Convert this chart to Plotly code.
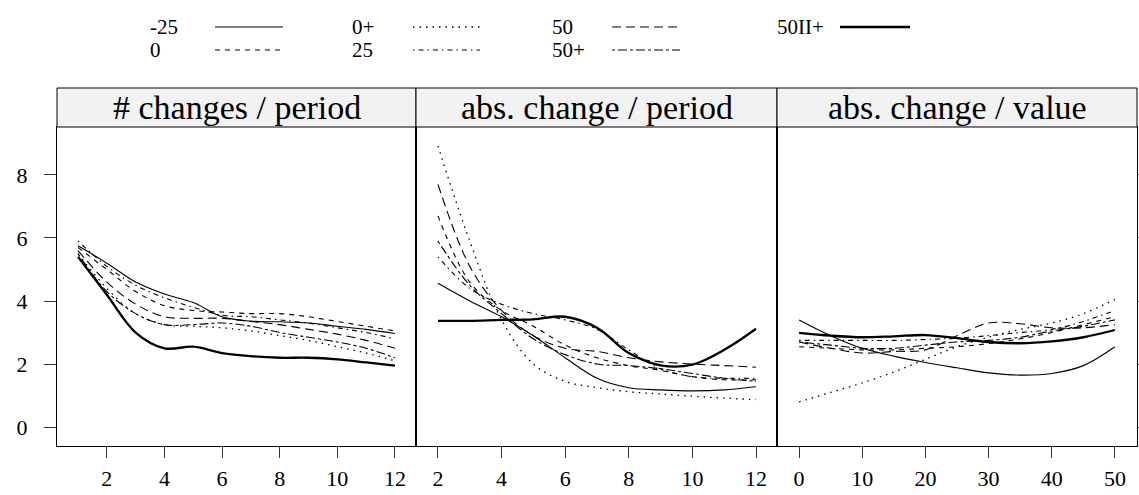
import plotly.graph_objects as go

W, H = 1139, 495

names = ["-25", "0", "0+", "25", "50", "50+", "50II+"]

# panel 1: # changes / period
x_cp = list(range(1, 13))
cp_m25 = [5.75, 5.2, 4.6, 4.22, 3.95, 3.5, 3.36, 3.34, 3.3, 3.2, 3.1, 2.97]
cp_0 = [5.7, 5.0, 4.3, 3.85, 3.7, 3.65, 3.6, 3.6, 3.5, 3.35, 3.2, 3.05]
cp_0p = [5.5, 4.4, 3.6, 3.25, 3.2, 3.15, 3.05, 2.9, 2.75, 2.55, 2.35, 2.1]
cp_25 = [5.9, 5.1, 4.5, 4.1, 3.8, 3.55, 3.5, 3.4, 3.3, 3.15, 3.0, 2.8]
cp_50 = [5.6, 4.6, 3.9, 3.5, 3.45, 3.45, 3.35, 3.25, 3.1, 2.95, 2.75, 2.5]
cp_50p = [5.5, 4.3, 3.6, 3.25, 3.25, 3.3, 3.2, 3.0, 2.85, 2.7, 2.5, 2.2]
cp_50IIp = [5.4, 4.2, 3.0, 2.5, 2.55, 2.35, 2.25, 2.2, 2.2, 2.15, 2.05, 1.95]

# panel 2: abs. change / period
x_ap = list(range(2, 13))
ap_m25 = [4.56, 4.0, 3.5, 2.9, 2.2, 1.55, 1.25, 1.18, 1.15, 1.18, 1.28]
ap_0 = [6.7, 4.6, 3.7, 3.2, 2.6, 2.2, 1.95, 1.8, 1.6, 1.5, 1.5]
ap_0p = [8.92, 5.9, 3.4, 2.0, 1.45, 1.25, 1.12, 1.05, 0.98, 0.92, 0.87]
ap_25 = [5.4, 4.4, 3.9, 3.6, 3.4, 3.1, 2.45, 1.85, 1.6, 1.55, 1.55]
ap_50 = [7.7, 5.1, 3.7, 2.9, 2.5, 2.4, 2.2, 2.07, 2.0, 1.95, 1.9]
ap_50p = [5.9, 4.5, 3.6, 2.8, 2.3, 2.0, 1.95, 1.85, 1.7, 1.55, 1.45]
ap_50IIp = [3.37, 3.37, 3.4, 3.42, 3.5, 3.15, 2.35, 1.96, 1.98, 2.45, 3.12]

# panel 3: abs. change / value
x_av = list(range(0, 51, 5))
av_m25 = [3.4, 2.9, 2.5, 2.25, 2.05, 1.88, 1.72, 1.65, 1.7, 1.95, 2.55]
av_0 = [2.55, 2.5, 2.45, 2.45, 2.5, 2.55, 2.65, 2.8, 3.0, 3.25, 3.5]
av_0p = [0.8, 1.1, 1.4, 1.75, 2.15, 2.55, 2.85, 3.1, 3.3, 3.6, 4.05]
av_25 = [2.75, 2.75, 2.75, 2.75, 2.78, 2.82, 2.9, 3.0, 3.1, 3.35, 3.7]
av_50 = [2.7, 2.5, 2.35, 2.4, 2.45, 2.9, 3.3, 3.28, 3.15, 3.15, 3.25]
av_50p = [2.7, 2.6, 2.5, 2.5, 2.6, 2.7, 2.75, 2.85, 3.05, 3.2, 3.4]
av_50IIp = [2.99, 2.9, 2.85, 2.88, 2.92, 2.82, 2.7, 2.66, 2.72, 2.85, 3.08]

strip_titles = ["# changes / period", "abs. change / period", "abs. change / value"]
y_ticks = [0, 2, 4, 6, 8]
x_ticks_cp = [2, 4, 6, 8, 10, 12]
x_ticks_ap = [2, 4, 6, 8, 10, 12]
x_ticks_av = [0, 10, 20, 30, 40, 50]

styles = {
    "-25": dict(dash="solid", width=1.1),
    "0": dict(dash="5px,5px", width=1.1),
    "0+": dict(dash="1.5px,5px", width=1.3),
    "25": dict(dash="1.5px,4px,5px,4px", width=1.1),
    "50": dict(dash="9px,5px", width=1.1),
    "50+": dict(dash="3px,3px,9px,3px", width=1.1),
    "50II+": dict(dash="solid", width=2.3),
}

FONT = "Liberation Serif, DejaVu Serif, serif"
fig = go.Figure()

panels = [
    (x_cp, [cp_m25, cp_0, cp_0p, cp_25, cp_50, cp_50p, cp_50IIp], "x", "y"),
    (x_ap, [ap_m25, ap_0, ap_0p, ap_25, ap_50, ap_50p, ap_50IIp], "x2", "y2"),
    (x_av, [av_m25, av_0, av_0p, av_25, av_50, av_50p, av_50IIp], "x3", "y3"),
]
for xs, series, xa, ya in panels:
    for nm, ys in zip(names, series):
        st = styles[nm]
        fig.add_trace(go.Scatter(
            x=xs, y=ys, mode="lines", name=nm, showlegend=False,
            line=dict(color="black", width=st["width"], dash=st["dash"],
                      shape="spline", smoothing=1.0),
            xaxis=xa, yaxis=ya))

# pixel geometry
pl = [57, 416, 777]
pr = [416, 777, 1137]
ptop, pbot = 127, 446
stop = 88

def fx(px):
    return px / W

def fy(py):
    return (H - py) / H

ydom = [fy(pbot), fy(ptop)]
yrange = [-0.6, 9.52]
xranges = [[0.27, 12.73], [1.31, 12.66], [-3.5, 53.5]]
xticks = [x_ticks_cp, x_ticks_ap, x_ticks_av]

common_axis = dict(showgrid=False, zeroline=False, showline=True, mirror=True,
                   linecolor="black", linewidth=1, ticks="outside", ticklen=11,
                   tickcolor="#333333", tickwidth=1, automargin=False,
                   tickfont=dict(family=FONT, size=22, color="black"))

layout = dict(width=W, height=H, margin=dict(l=0, r=0, t=0, b=0),
              paper_bgcolor="white", plot_bgcolor="white", showlegend=False,
              font=dict(family=FONT, color="black"))
for i in range(3):
    sfx = "" if i == 0 else str(i + 1)
    layout["xaxis" + sfx] = dict(common_axis, domain=[fx(pl[i]), fx(pr[i])],
                                 range=xranges[i], tickvals=xticks[i],
                                 anchor="y" + sfx, ticklabelstandoff=2)
    ya = dict(common_axis, domain=ydom, range=yrange, anchor="x" + sfx,
              tickvals=y_ticks, ticklabelstandoff=12, ticklen=12)
    if i == 1:
        ya.update(ticks="", showticklabels=False)
    if i == 2:
        ya.update(side="right", showticklabels=False)
    layout["yaxis" + sfx] = ya
fig.update_layout(**layout)

shapes = []
annotations = []
for i in range(3):
    shapes.append(dict(type="rect", xref="paper", yref="paper",
                       x0=fx(pl[i]), x1=fx(pr[i]), y0=fy(ptop), y1=fy(stop),
                       fillcolor="#f2f2f2", line=dict(color="black", width=1),
                       layer="above"))
    annotations.append(dict(xref="paper", yref="paper",
                            x=fx((pl[i] + pr[i]) / 2), y=fy(107.5),
                            text=strip_titles[i], showarrow=False,
                            xanchor="center", yanchor="middle",
                            font=dict(family=FONT, size=34, color="black")))

# legend (drawn manually: text then line sample, 4 columns x 2 rows)
leg_text_x = [148, 350, 550, 775]
leg_line_x = [(215, 283), (413, 480), (612, 680), (840, 910)]
leg_rows_y = [27, 50]
for k, nm in enumerate(names):
    col, row = k // 2, k % 2
    yy = leg_rows_y[row]
    annotations.append(dict(xref="paper", yref="paper", x=fx(leg_text_x[col]),
                            y=fy(yy), text=nm, showarrow=False,
                            xanchor="left", yanchor="middle",
                            font=dict(family=FONT, size=21, color="black")))
    st = styles[nm]
    shapes.append(dict(type="line", xref="paper", yref="paper",
                       x0=fx(leg_line_x[col][0]), x1=fx(leg_line_x[col][1]),
                       y0=fy(yy), y1=fy(yy),
                       line=dict(color="black", width=st["width"], dash=st["dash"])))

fig.update_layout(shapes=shapes, annotations=annotations)
fig.write_html("out.html")
